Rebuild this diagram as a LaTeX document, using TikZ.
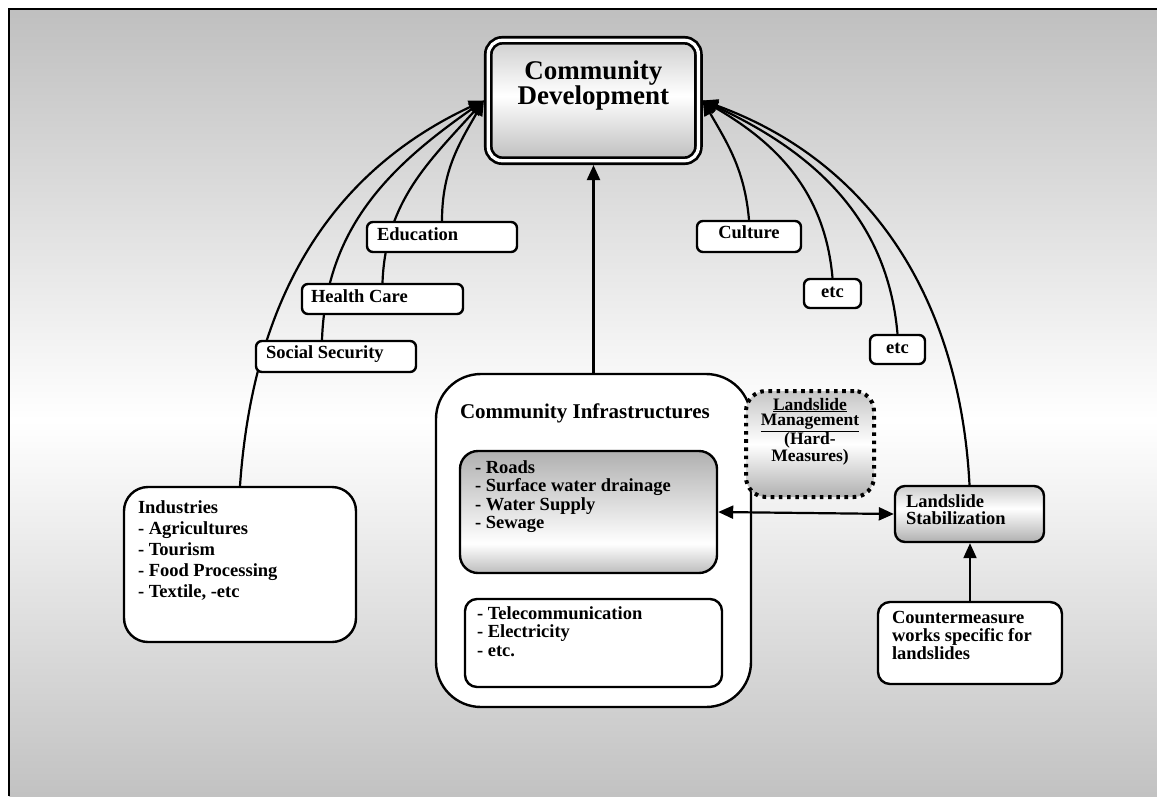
\documentclass[tikz,border=0pt]{standalone}
\usepackage{fontspec}
\setmainfont{Liberation Serif}
\usetikzlibrary{arrows.meta}

\pgfdeclarelayer{bg}
\pgfdeclarelayer{links}
\pgfsetlayers{bg,links,main}

% vertical fills: 25bp = bottom edge, 75bp = top edge
\pgfdeclareverticalshading{devshade}{100bp}{color(0bp)=(gray!52); color(25bp)=(gray!52); color(52bp)=(white); color(75bp)=(gray!38); color(100bp)=(gray!38)}
\pgfdeclareverticalshading{roadshade}{100bp}{color(0bp)=(gray!52); color(25bp)=(gray!52); color(37bp)=(white); color(75bp)=(gray!62); color(100bp)=(gray!62)}
\pgfdeclareverticalshading{lmshade}{100bp}{color(0bp)=(gray!62); color(25bp)=(gray!62); color(50bp)=(white); color(75bp)=(gray!45); color(100bp)=(gray!45)}
\pgfdeclareverticalshading{lsshade}{100bp}{color(0bp)=(gray!62); color(25bp)=(gray!62); color(55bp)=(white); color(75bp)=(gray!40); color(100bp)=(gray!40)}

% box contents: width, height, first baseline offset, alignment, text
\newcommand\inbox[5]{\parbox[c][#2pt][t]{#1pt}{#4\rule{0pt}{#3pt}#5\par}}
\newcommand\lft[1]{\raggedright\leftskip=#1pt\relax}
\newcommand\fs[2]{\fontsize{#1}{#2}\selectfont\bfseries}

\tikzset{
  box/.style={draw=black, line width=2.4pt, fill=white, inner sep=0pt, rounded corners=6pt},
  link/.style={line width=2.2pt, -{Triangle[length=15pt,width=13pt]}},
  dlink/.style={line width=2.2pt, {Triangle[length=15pt,width=13pt]}-{Triangle[length=15pt,width=13pt]}},
}

\begin{document}
\lineskiplimit=-50pt
\begin{tikzpicture}[x=1pt, y=1pt]
\useasboundingbox (0,0) rectangle (1157,-796);

% central goal
\node[box, double, double distance=3.3pt, line width=2.7pt, rounded corners=14pt,
      shading=devshade, outer sep=4.35pt, font=\fs{27}{22}] (dev) at (593.35,-100.5)
  {\inbox{210.1}{120.4}{38.7}{\centering}{Community\\Development}};

% left contributors
\node[box, font=\fs{18.5}{18.5}] (edu) at (442,-237) {\inbox{150}{30}{18}{\lft{10}}{Education}};
\node[box, font=\fs{18.5}{18.5}] (hc) at (382.5,-299) {\inbox{161}{30}{18}{\lft{9}}{Health Care}};
\node[box, font=\fs{18.5}{18.5}] (ss) at (336,-356.5) {\inbox{160}{31}{17}{\lft{10}}{Social Security}};
\node[box, rounded corners=24pt, font=\fs{18.5}{21}] (ind) at (240,-564.5)
  {\inbox{232}{155}{26}{\lft{14}}{Industries\\- Agricultures\\- Tourism\\- Food Processing\\- Textile, -etc}};

% right contributors
\node[box, font=\fs{18.5}{18.5}] (cul) at (749,-236.5) {\inbox{104}{31}{17}{\centering}{Culture}};
\node[box, font=\fs{18.5}{18.5}] (etca) at (832.5,-293.5) {\inbox{57}{29}{18}{\centering}{etc}};
\node[box, font=\fs{18.5}{18.5}] (etcb) at (897.5,-349.5) {\inbox{55}{29}{18}{\centering}{etc}};

% infrastructure group
\node[box, rounded corners=45pt, font=\fs{21}{21}] (inf) at (593.5,-540.5)
  {\inbox{315}{333}{44}{\lft{24}}{Community Infrastructures}};
\node[box, rounded corners=18pt, shading=roadshade, font=\fs{18.5}{18.5}] (roads) at (588.5,-512)
  {\inbox{257}{122}{22}{\lft{15}}{- Roads\\- Surface water drainage\\- Water Supply\\- Sewage}};
\node[box, rounded corners=12pt, font=\fs{18.5}{18.5}] (tel) at (593.5,-643)
  {\inbox{257}{88}{20}{\lft{12}}{- Telecommunication\\- Electricity\\- etc.}};
\node[box, line width=4pt, dash pattern=on 3.6pt off 4.6pt, rounded corners=20pt,
      shading=lmshade, font=\fs{17.5}{15.7}] (lm) at (810,-444)
  {\inbox{128}{106}{19}{\centering}{\underline{Landslide}\\\underline{Management}\\(Hard-\\Measures)}};

% landslide measures
\node[box, rounded corners=10pt, shading=lsshade, font=\fs{18.5}{17.5}] (ls) at (969.5,-514)
  {\inbox{149}{56}{21}{\lft{11}}{Landslide\\Stabilization}};
\node[box, rounded corners=12pt, font=\fs{18.5}{18}] (cm) at (970,-643)
  {\inbox{184}{82}{21}{\lft{14}}{Countermeasure\\works specific for\\landslides}};

% link between the hard measures, drawn over the group frame
\draw[dlink] (roads.east) -- (ls.west);

\begin{pgfonlayer}{links}
  \draw[link] (ind.north) to[out=86,in=205] (dev.west);
  \draw[link] ([xshift=-14pt]ss.north) to[out=88,in=215] (dev.west);
  \draw[link] (hc.north) to[out=88,in=228] (dev.west);
  \draw[link] (edu.north) to[out=90,in=240] (dev.west);
  \draw[link] (cul.north) to[out=95,in=-60] (dev.east);
  \draw[link] (etca.north) to[out=95,in=-30] (dev.east);
  \draw[link] (etcb.north) to[out=95,in=-25] (dev.east);
  \draw[link] (ls.north) to[out=93,in=-20] (dev.east);
  \draw[link] (inf.north) -- (inf.north |- dev.south);
  \draw[link] (cm.north) -- (cm.north |- ls.south);
\end{pgfonlayer}

\begin{pgfonlayer}{bg}
  \fill[white] (0,0) rectangle (1157,-796);
  \shade[top color=gray!50, bottom color=white] (9,-9) rectangle (1157,-420);
  \shade[top color=white, bottom color=gray!48] (9,-420) rectangle (1157,-796);
  \draw[line width=2pt] (9,-796) -- (9,-9) -- (1157,-9);
\end{pgfonlayer}
\end{tikzpicture}
\end{document}
